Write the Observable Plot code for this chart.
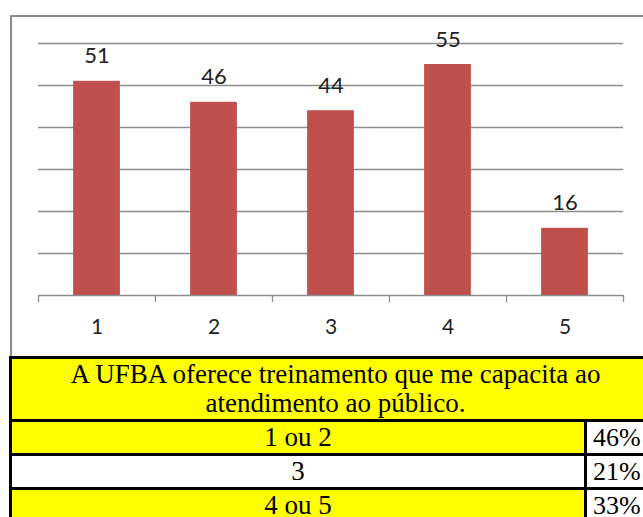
<!DOCTYPE html>
<html>
<head>
<meta charset="utf-8">
<script src="https://cdn.jsdelivr.net/npm/d3@7"></script>
<script src="https://cdn.jsdelivr.net/npm/@observablehq/plot@0.6"></script>
<style>
  html, body { margin: 0; padding: 0; background: #fff; overflow: hidden; }
  body { width: 643px; height: 517px; position: relative; }
  #frame { position: absolute; left: 10px; top: 15px; width: 700px; height: 345px; border: 2px solid #8c8c8c; box-sizing: border-box; }
  #chart { position: absolute; left: 0; top: 0; }
  #tbl { position: absolute; left: 9px; top: 356px; width: 653px; border-collapse: collapse; color: #000; }
  #tbl td { font-family: "Liberation Serif", "Times New Roman", Tinos, "DejaVu Serif", serif; font-size: 27px; border: 3px solid #000; padding: 0; line-height: 29px; }
  #tbl td.head { background: #ffff00; text-align: center; height: 60px; line-height: 29px; }
  #tbl td.lab { text-align: center; width: 572px; height: 31px; }
  #tbl td.pct { text-align: left; padding-left: 6px; background: #fff; font-size: 26px; }
  #tbl tr.yellow td.lab { background: #ffff00; }
</style>
</head>
<body>
<div id="frame"></div>
<div id="chart"></div>
<table id="tbl"></table>
<script>
const categories = [1, 2, 3, 4, 5];
const values = [51, 46, 44, 55, 16];
const gridValues = [10, 20, 30, 40, 50, 60];
const tableTitle = ["A UFBA oferece treinamento que me capacita ao", "atendimento ao público."];
const tableLabels = ["1 ou 2", "3", "4 ou 5"];
const tablePercents = ["46%", "21%", "33%"];
const tableYellow = [true, false, true];

const data = categories.map((c, i) => ({cat: c, value: values[i]}));
const boundaries = [0.5, 1.5, 2.5, 3.5, 4.5, 5.5];
const halfBar = 0.2;

const chart = Plot.plot({
  width: 643,
  height: 357,
  marginLeft: 38,
  marginRight: 20,
  marginTop: 43,
  marginBottom: 62,
  style: {fontFamily: "Lato, 'Open Sans', sans-serif", fontSize: "21px", background: "transparent"},
  x: {domain: [0.5, 5.5], axis: null, label: null},
  y: {domain: [0, 60], axis: null, label: null},
  marks: [
    Plot.ruleY(gridValues, {stroke: "#8c8c8c", strokeWidth: 1.3}),
    Plot.rectY(data, {x1: d => d.cat - halfBar, x2: d => d.cat + halfBar, y: "value", fill: "#c0504d"}),
    Plot.ruleY([0], {stroke: "#8c8c8c", strokeWidth: 1.3}),
    Plot.axisX({ticks: boundaries, tickFormat: () => "", tickSize: 7, stroke: "#8c8c8c", strokeWidth: 1.3, label: null}),
    Plot.text(data, {x: "cat", y: "value", text: d => String(d.value), dy: -25, fill: "#222", fontSize: 22}),
    Plot.text(data, {x: "cat", y: 0, text: d => String(d.cat), dy: 32, fill: "#222", fontSize: 21})
  ]
});
document.getElementById("chart").appendChild(chart);

const tbl = document.getElementById("tbl");
const hr = document.createElement("tr");
const hc = document.createElement("td");
hc.colSpan = 2;
hc.className = "head";
hc.innerHTML = tableTitle.join("<br>");
hr.appendChild(hc);
tbl.appendChild(hr);
tableLabels.forEach((lab, i) => {
  const tr = document.createElement("tr");
  if (tableYellow[i]) tr.className = "yellow";
  const a = document.createElement("td");
  a.className = "lab";
  a.textContent = lab;
  const b = document.createElement("td");
  b.className = "pct";
  b.textContent = tablePercents[i];
  tr.appendChild(a);
  tr.appendChild(b);
  tbl.appendChild(tr);
});
</script>
</body>
</html>
